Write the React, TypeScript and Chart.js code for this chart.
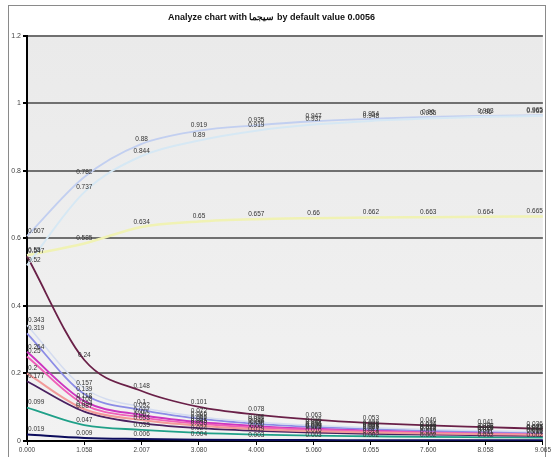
import React, { useEffect, useRef } from "react";
import { Chart, registerables } from "chart.js";

Chart.register(...registerables);

const FONT = "'Liberation Sans', Arial, sans-serif";

const categories = ["0.000", "1.058", "2.007", "3.080", "4.000", "5.060", "6.055", "7.600", "8.058", "9.065"];

const risingBlue = [0.607, 0.782, 0.88, 0.919, 0.935, 0.947, 0.954, 0.96, 0.963, 0.965];
const risingPale = [0.52, 0.737, 0.844, 0.89, 0.919, 0.937, 0.948, 0.955, 0.96, 0.963];
const yellowSeries = [0.55, 0.585, 0.634, 0.65, 0.657, 0.66, 0.662, 0.663, 0.664, 0.665];
const maroonSeries = [0.547, 0.24, 0.148, 0.101, 0.078, 0.063, 0.053, 0.046, 0.041, 0.036];
const paleSeries = [0.343, 0.157, 0.1, 0.072, 0.056, 0.046, 0.039, 0.034, 0.03, 0.027];
const periwinkleSeries = [0.319, 0.139, 0.092, 0.066, 0.051, 0.042, 0.036, 0.031, 0.028, 0.025];
const magentaSeries = [0.264, 0.118, 0.077, 0.056, 0.044, 0.036, 0.031, 0.027, 0.024, 0.022];
const pinkSeries = [0.25, 0.108, 0.07, 0.051, 0.04, 0.033, 0.028, 0.025, 0.022, 0.02];
const salmonSeries = [0.2, 0.094, 0.062, 0.045, 0.035, 0.029, 0.025, 0.022, 0.02, 0.018];
const purpleSeries = [0.177, 0.087, 0.053, 0.038, 0.03, 0.025, 0.021, 0.019, 0.017, 0.015];
const tealSeries = [0.099, 0.047, 0.033, 0.024, 0.019, 0.016, 0.014, 0.012, 0.011, 0.01];
const navySeries = [0.019, 0.009, 0.006, 0.004, 0.003, 0.003, 0.002, 0.002, 0.002, 0.002];

const fmt = (v: number) => String(+v.toFixed(3));

const bgPlugin = {
  id: "bgPlugin",
  beforeDraw(chart: any) {
    const { ctx, chartArea: a } = chart;
    ctx.save();
    ctx.fillStyle = "#ffffff";
    ctx.fillRect(0, 0, chart.width, chart.height);
    ctx.strokeStyle = "#8a8a8a";
    ctx.lineWidth = 1;
    ctx.strokeRect(8.5, 5.5, 537, 470);
    const g = ctx.createLinearGradient(0, a.top, 0, a.bottom);
    g.addColorStop(0, "#eaeaea");
    g.addColorStop(1, "#f2f2f2");
    ctx.fillStyle = g;
    ctx.fillRect(a.left, a.top, a.right - a.left, a.bottom - a.top);
    ctx.restore();
  },
};

const labelPlugin = {
  id: "labelPlugin",
  afterDatasetsDraw(chart: any) {
    const ctx = chart.ctx;
    ctx.save();
    ctx.font = `6.5px ${FONT}`;
    ctx.fillStyle = "#333";
    ctx.textBaseline = "middle";
    chart.data.datasets.forEach((ds: any, i: number) => {
      const meta = chart.getDatasetMeta(i);
      const n = ds.data.length;
      meta.data.forEach((pt: any, j: number) => {
        const v = ds.data[j];
        ctx.textAlign = j === 0 ? "left" : j === n - 1 ? "right" : "center";
        const dx = j === 0 ? 1 : 0;
        ctx.fillText(fmt(v), pt.x + dx, pt.y - 5);
      });
    });
    ctx.restore();
  },
};

export default function App() {
  const ref = useRef<HTMLCanvasElement | null>(null);
  useEffect(() => {
    document.body.style.margin = "0";
    if (!ref.current) return;
    const mk = (data: number[], color: string, width = 2) => ({
      data,
      borderColor: color,
      backgroundColor: color,
      borderWidth: width,
      pointRadius: 0,
      cubicInterpolationMode: "monotone" as const,
      fill: false,
    });
    const chart = new Chart(ref.current, {
      type: "line",
      data: {
        labels: categories,
        datasets: [
          mk(risingPale, "#d6e8f4", 2),
          mk(risingBlue, "#c2cff0", 1.8),
          mk(yellowSeries, "#f0f2b4", 2.5),
          mk(maroonSeries, "#6a2048", 1.8),
          mk(paleSeries, "#d4dcf0", 1.5),
          mk(periwinkleSeries, "#8c8ce6", 1.8),
          mk(salmonSeries, "#f29a9a", 2),
          mk(pinkSeries, "#f060b8", 2),
          mk(magentaSeries, "#cc36c0", 2),
          mk(purpleSeries, "#4a2060", 1.8),
          mk(tealSeries, "#1fa088", 1.8),
          mk(navySeries, "#0c0c5c", 2),
        ],
      },
      options: {
        animation: false,
        responsive: false,
        layout: { padding: { left: 0, right: 9, top: 0, bottom: 0 } },
        plugins: {
          legend: { display: false },
          tooltip: { enabled: false },
          title: {
            display: true,
            text: "Analyze chart with سيجما by default value 0.0056",
            font: { size: 9, weight: "bold", family: FONT },
            color: "#111",
            padding: { top: 12, bottom: 13 },
          },
        },
        scales: {
          x: {
            offset: false,
            ticks: { font: { size: 6.5, family: FONT }, color: "#444", maxRotation: 0, autoSkip: false, padding: 1 },
            grid: { display: true, drawOnChartArea: false, tickLength: 4, tickColor: "#000", offset: false },
            border: { color: "#000", width: 2 },
            afterFit(s: any) { s.height = 16; },
          },
          y: {
            min: 0,
            max: 1.2,
            ticks: {
              stepSize: 0.2,
              font: { size: 7, family: FONT },
              color: "#444",
              padding: 2,
              callback: (v: any) => fmt(Number(v)),
            },
            grid: { color: "#707070", lineWidth: 2, tickLength: 4, tickColor: "#000" },
            border: { color: "#000", width: 2 },
            afterFit(s: any) { s.width = 27; },
          },
        },
      },
      plugins: [bgPlugin, labelPlugin],
    });
    return () => chart.destroy();
  }, []);
  return <canvas ref={ref} width={552} height={457} style={{ display: "block", width: 552, height: 457 }} />;
}
